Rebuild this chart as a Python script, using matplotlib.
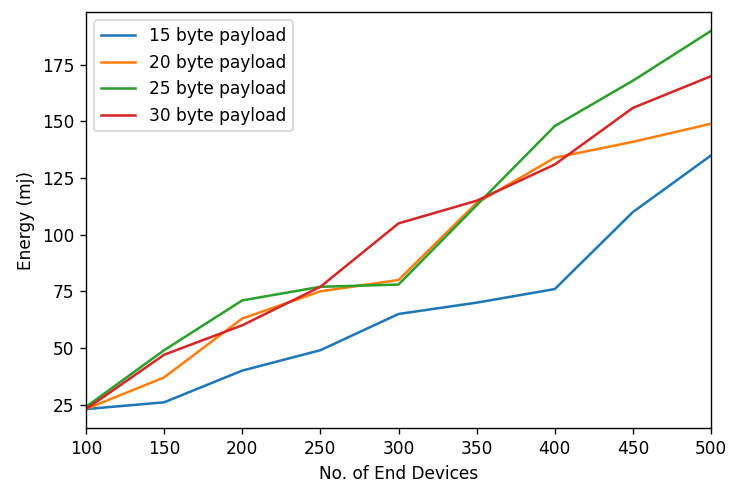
import matplotlib
matplotlib.use("Agg")
import matplotlib.pyplot as plt

# number of end devices
devices = [100, 150, 200, 250, 300, 350, 400, 450, 500]

# energy (mJ) per payload size
e15 = [23, 26, 40, 49, 65, 70, 76, 110, 135]
e20 = [23, 37, 63, 75, 80, 114, 134, 141, 149]
e25 = [24, 49, 71, 77, 78, 113, 148, 168, 190]
e30 = [23, 47, 60, 77, 105, 115, 131, 156, 170]

fig = plt.figure(figsize=(6, 4), dpi=122)
ax = fig.add_axes([86/732, 60/488, 625/732, 416/488])

ax.plot(devices, e15, label='15 byte payload')
ax.plot(devices, e20, label='20 byte payload')
ax.plot(devices, e25, label='25 byte payload')
ax.plot(devices, e30, label='30 byte payload')

ax.set_xlim(100, 500)
ax.set_xlabel('No. of End Devices')
ax.set_ylabel('Energy (mj)')
ax.legend(loc='upper left')

fig.savefig('out.png', dpi=122)
